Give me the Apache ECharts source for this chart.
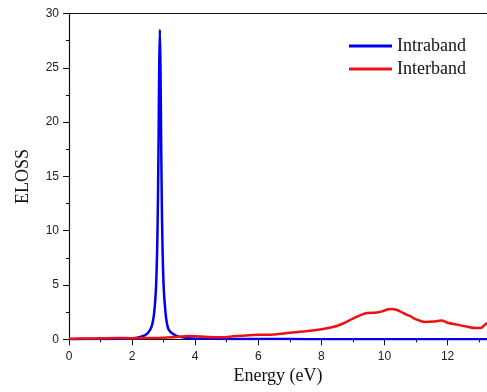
<!DOCTYPE html>
<html><head><meta charset="utf-8">
<script src="https://cdn.jsdelivr.net/npm/echarts@6/dist/echarts.min.js"></script>
<style>html,body{margin:0;padding:0;background:#fff}#c{width:487px;height:392px}</style>
</head><body><div id="c"></div>
<script>
const intraX = [0,0.5,1,1.5,2,2.2,2.4,2.5,2.6,2.65,2.7,2.75,2.78,2.8,2.82,2.84,2.86,2.88,2.9,2.92,2.94,2.96,2.98,3.01,3.06,3.1,3.16,3.3,3.5,3.8,4,5,6,7,8,9,10,11,12,13,13.25];
const intraY = [0.01,0.02,0.03,0.05,0.1,0.18,0.37,0.58,1.05,1.53,2.43,4.3,6.6,9.1,13.0,18.6,25.2,28.5,25.2,18.6,13.0,9.1,6.6,4.3,2.43,1.53,0.9,0.48,0.22,0.1,0.07,0.03,0.02,0.02,0.01,0.01,0.01,0.01,0.01,0.01,0.01];
const interX = [0,0.5,1,1.5,2,2.5,3,3.4,3.8,4.2,4.8,5.3,5.7,6,6.5,7,7.5,8,8.4,8.7,9,9.3,9.5,9.7,9.9,10.2,10.4,10.6,10.8,11,11.3,11.6,11.8,12,12.3,12.6,12.9,13.05,13.15,13.25];
const interY = [0.05,0.07,0.1,0.12,0.1,0.12,0.15,0.22,0.3,0.25,0.18,0.3,0.38,0.42,0.45,0.6,0.75,0.92,1.15,1.47,1.9,2.3,2.42,2.45,2.55,2.8,2.7,2.4,2.15,1.84,1.6,1.65,1.72,1.53,1.35,1.17,1.04,1.05,1.25,1.5];
const xTicks = [0,2,4,6,8,10,12];
const yTicks = [0,5,10,15,20,25,30];
const zip = (a,b)=>a.map((v,i)=>[v,b[i]]);
const chart = echarts.init(document.getElementById('c'));
const axisFont = {fontFamily:'Liberation Sans, Arial', fontSize:12, color:'#222'};
const serif = 'Liberation Serif, Times New Roman';
chart.setOption({
  animation:false,
  grid:{left:69,top:13.5,right:0,bottom:52.7,containLabel:false,outerBoundsMode:'none'},
  legend:{
    left:344, top:32, orient:'vertical', itemGap:5, itemWidth:43, itemHeight:3, icon:'rect',
    textStyle:{fontFamily:serif, fontSize:18, color:'#111'},
    data:['Intraband','Interband']
  },
  xAxis:[{
    type:'value', min:0, max:13.25, interval:2,
    name:'Energy (eV)', nameLocation:'middle', nameGap:23,
    nameTextStyle:{fontFamily:serif, fontSize:18, color:'#111'},
    axisLine:{show:true,lineStyle:{color:'#111',width:1.2}},
    axisTick:{show:true,inside:false,length:6,lineStyle:{color:'#111'}},
    minorTick:{show:true,splitNumber:2,length:3,lineStyle:{color:'#111'}},
    splitLine:{show:false},
    axisLabel:Object.assign({margin:11,showMaxLabel:false,formatter:v=>xTicks.includes(v)?String(v):''},axisFont)
  },{
    type:'value', position:'top', min:0, max:13.25,
    axisLine:{show:true,lineStyle:{color:'#111',width:1.2}},
    axisTick:{show:false}, axisLabel:{show:false}, splitLine:{show:false}
  }],
  yAxis:{
    type:'value', min:0, max:30, interval:5,
    name:'ELOSS', nameLocation:'middle', nameGap:37, nameRotate:90,
    nameTextStyle:{fontFamily:serif, fontSize:18, color:'#111'},
    axisLine:{show:true,lineStyle:{color:'#111',width:1.2}},
    axisTick:{show:true,inside:false,length:6,lineStyle:{color:'#111'}},
    minorTick:{show:true,splitNumber:2,length:3,lineStyle:{color:'#111'}},
    splitLine:{show:false},
    axisLabel:Object.assign({margin:10,formatter:v=>yTicks.includes(v)?String(v):''},axisFont)
  },
  series:[
    {name:'Intraband',type:'line',data:zip(intraX,intraY),smooth:0.3,showSymbol:false,symbol:'none',
     lineStyle:{color:'#0000ee',width:2.5},itemStyle:{color:'#0000ee'},z:2},
    {name:'Interband',type:'line',data:zip(interX,interY),smooth:0.4,showSymbol:false,symbol:'none',
     lineStyle:{color:'#ee1111',width:2.5},itemStyle:{color:'#ee1111'},z:3}
  ]
});
</script></body></html>
